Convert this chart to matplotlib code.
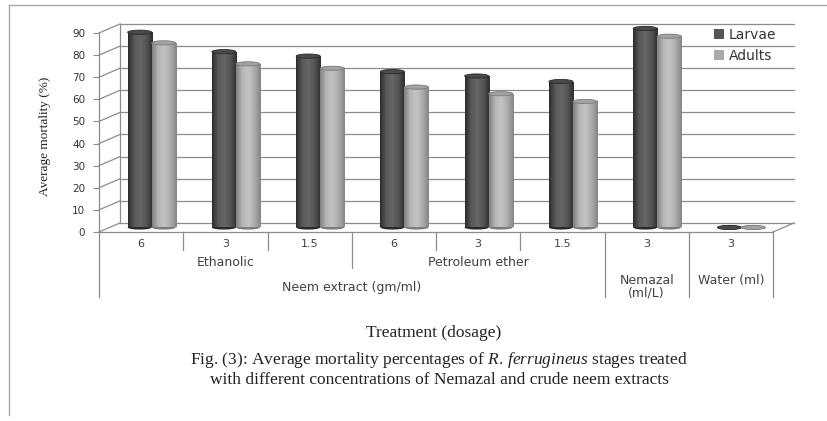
import matplotlib.pyplot as plt
import matplotlib.transforms as mtransforms
import numpy as np
from matplotlib.patches import Ellipse, Patch
from matplotlib.colors import LinearSegmentedColormap

plt.rcParams['mathtext.fontset'] = 'custom'
plt.rcParams['mathtext.rm'] = 'Liberation Serif'
plt.rcParams['mathtext.it'] = 'Liberation Serif:italic'

# data
doses = ['6', '3', '1.5', '6', '3', '1.5', '3', '3']
larvae = [88.3, 79.5, 77.5, 70.5, 68.5, 66.0, 90.0, 0.0]
adults = [83.5, 74.0, 72.0, 63.5, 60.5, 57.0, 86.5, 0.0]
series_names = ['Larvae', 'Adults']
extracts = ['Ethanolic', 'Petroleum ether']
extract_spans = [(0, 3), (3, 6)]
treatments = ['Neem extract (gm/ml)', 'Nemazal\n(ml/L)', 'Water (ml)']
treatment_spans = [(0, 6), (6, 7), (7, 8)]
yticks = list(range(0, 91, 10))

W, H = 827, 421


def fx(px):
    return px / W


def fy(py):
    return 1 - py / H


fig = plt.figure(figsize=(W / 100, H / 100), dpi=100)
ax = fig.add_axes([fx(99), fy(232), fx(773) - fx(99), fy(33) - fy(232)])
n = len(doses)
DX, DY = 0.25, 4.1  # depth of the pseudo-3d box in data units
grid_c = '#8c8c8c'

# back wall, side wall and floor
for v in yticks:
    ax.plot([DX, n + DX], [v + DY, v + DY], color=grid_c, lw=0.9, clip_on=False, zorder=1)
    ax.plot([0, DX], [v, v + DY], color=grid_c, lw=0.9, clip_on=False, zorder=1)
ax.plot([DX, DX], [DY, yticks[-1] + DY], color=grid_c, lw=0.9, clip_on=False, zorder=1)
ax.plot([n, n + DX], [0, DY], color=grid_c, lw=0.9, clip_on=False, zorder=1)

# cylinder bars
grad = np.linspace(0, 1, 64).reshape(1, -1)
cm_l = LinearSegmentedColormap.from_list('l', ['#2c2c2c', '#5a5a5a', '#666666', '#555555', '#2e2e2e'])
cm_a = LinearSegmentedColormap.from_list('a', ['#808080', '#b6b6b6', '#c4c4c4', '#ababab', '#858585'])
bw = 0.285
eh = 1.9
base = DY / 2
xs = np.arange(n) + 0.5 + DX / 2
for vals, off, cmap, top_c, edge_c in [(larvae, -bw / 2, cm_l, '#4a4a4a', '#2a2a2a'),
                                        (adults, bw / 2, cm_a, '#a2a2a2', '#7c7c7c')]:
    bars = ax.bar(xs + off, vals, bw, bottom=base, color='none', zorder=3)
    for b, v in zip(bars, vals):
        x0 = b.get_x()
        xc = x0 + bw / 2
        ax.add_patch(Ellipse((xc, base), bw, eh, fc=edge_c, ec='none', zorder=2.9, clip_on=False))
        if v > 0:
            im = ax.imshow(grad, extent=[x0, x0 + bw, base, base + v], aspect='auto',
                           cmap=cmap, zorder=3, interpolation='bilinear')
            im.set_clip_path(b)
        ax.add_patch(Ellipse((xc, base + v), bw, eh, fc=top_c, ec=edge_c, lw=0.6, zorder=4,
                             clip_on=False))

ax.set_xlim(0, n)
ax.set_ylim(0, 90)
ax.set_aspect('auto')

for s in ['top', 'right']:
    ax.spines[s].set_visible(False)
for s in ['left', 'bottom']:
    ax.spines[s].set_color(grid_c)
    ax.spines[s].set_linewidth(0.9)
ax.set_xticks([])
ax.set_yticks(yticks)
ax.tick_params(axis='y', length=4, color=grid_c, labelsize=7.5, labelcolor='#333333', pad=6)

# multi-level category axis
blend = mtransforms.blended_transform_factory(ax.transData, fig.transFigure)
lab_c = '#404040'
for i, d in enumerate(doses):
    ax.text(i + 0.5, fy(244), d, transform=blend, ha='center', va='center', fontsize=8, color=lab_c)
for name, (a, b) in zip(extracts, extract_spans):
    ax.text((a + b) / 2, fy(262), name, transform=blend, ha='center', va='center', fontsize=9, color=lab_c)
for name, (a, b) in zip(treatments, treatment_spans):
    if b - a > 1:
        ax.text((a + b) / 2, fy(288), name, transform=blend, ha='center', va='center',
                fontsize=9, color=lab_c)
    else:
        ax.text((a + b) / 2, fy(274), name, transform=blend, ha='center', va='top',
                fontsize=9, color=lab_c, linespacing=1.0)

ext_edges = {e for span in extract_spans for e in span}
trt_edges = {e for span in treatment_spans for e in span}
for k in range(n + 1):
    if k in trt_edges:
        end = 297
    elif k in ext_edges:
        end = 268
    else:
        end = 250
    ax.plot([k, k], [fy(232), fy(end)], transform=blend, color=grid_c, lw=0.9, clip_on=False)

# legend
handles = [Patch(fc='#555555', ec='none'), Patch(fc='#aaaaaa', ec='none')]
leg = ax.legend(handles, series_names, loc='upper left', bbox_to_anchor=(fx(714), fy(28)),
                bbox_transform=fig.transFigure, frameon=False, handlelength=0.75, handleheight=0.75,
                handletextpad=0.3, labelspacing=0.5, borderpad=0, borderaxespad=0,
                prop={'size': 10})
for t in leg.get_texts():
    t.set_color('#333333')

# titles and caption
fig.text(fx(45), fy(136), 'Average mortality (%)', rotation=90, family='Liberation Serif',
         fontsize=9.5, ha='center', va='center', color='#222222')
fig.text(fx(434), fy(333), 'Treatment (dosage)', family='Liberation Serif', fontsize=12.5,
         ha='center', va='center', color='#222222')
fig.text(fx(439), fy(360),
         'Fig. (3): Average mortality percentages of $\\mathit{R.\\,ferrugineus}$ stages treated',
         family='Liberation Serif', fontsize=12.5, ha='center', va='center', color='#222222')
fig.text(fx(439), fy(380), 'with different concentrations of Nemazal and crude neem extracts',
         family='Liberation Serif', fontsize=12.5, ha='center', va='center', color='#222222')

# outer frame
frame_c = '#a8a8a8'
fig.add_artist(plt.Line2D([fx(9), 1], [fy(5), fy(5)], transform=fig.transFigure, color=frame_c, lw=1))
fig.add_artist(plt.Line2D([fx(9), fx(9)], [fy(5), fy(415)], transform=fig.transFigure, color=frame_c, lw=1))

fig.savefig('out.png', dpi=100)
